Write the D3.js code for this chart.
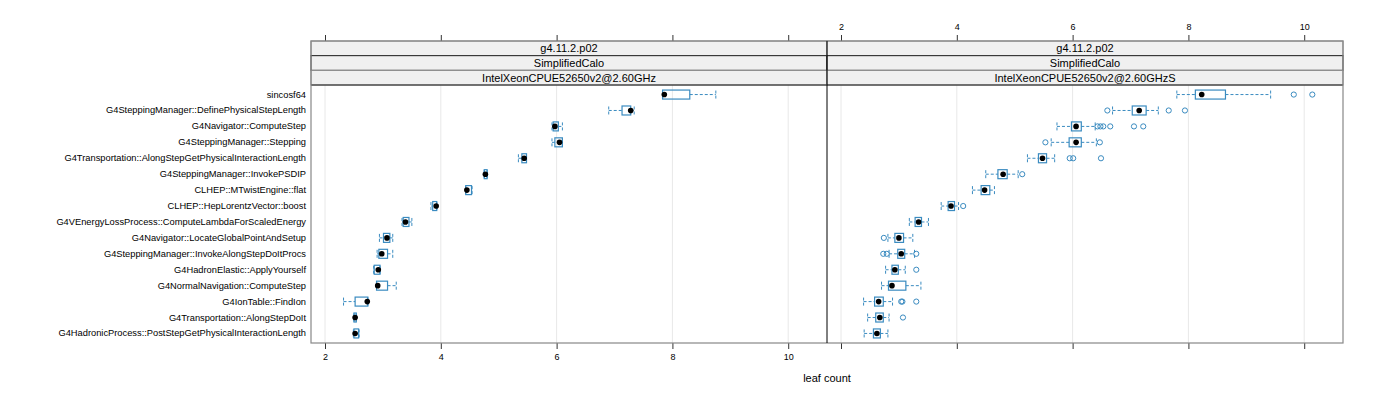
<!DOCTYPE html>
<html><head><meta charset="utf-8">
<script src="https://cdn.jsdelivr.net/npm/d3@7"></script>
<style>body{margin:0;background:#fff;}svg{display:block;font-family:"Liberation Sans",Arial,sans-serif;}</style>
</head><body><svg id="c" width="1400" height="400"></svg>
<script>
const categories = ["sincosf64","G4SteppingManager::DefinePhysicalStepLength","G4Navigator::ComputeStep","G4SteppingManager::Stepping","G4Transportation::AlongStepGetPhysicalInteractionLength","G4SteppingManager::InvokePSDIP","CLHEP::MTwistEngine::flat","CLHEP::HepLorentzVector::boost","G4VEnergyLossProcess::ComputeLambdaForScaledEnergy","G4Navigator::LocateGlobalPointAndSetup","G4SteppingManager::InvokeAlongStepDoItProcs","G4HadronElastic::ApplyYourself","G4NormalNavigation::ComputeStep","G4IonTable::FindIon","G4Transportation::AlongStepDoIt","G4HadronicProcess::PostStepGetPhysicalInteractionLength"];
const stripLevels = ["g4.11.2.p02","SimplifiedCalo"];
const panelNames = ["IntelXeonCPUE52650v2@2.60GHz","IntelXeonCPUE52650v2@2.60GHzS"];
const xTicks = [2,4,6,8,10];
const xLabel = "leaf count";

// Panel 1 (…GHz)
const p1Low = [7.83,6.90,5.92,5.92,5.34,4.75,4.43,3.83,3.33,2.94,2.90,2.84,2.89,2.32,2.50,2.49];
const p1Q1  = [7.83,7.13,5.94,5.97,5.40,4.75,4.43,3.86,3.35,3.01,2.93,2.85,2.89,2.52,2.50,2.50];
const p1Med = [7.86,7.28,5.97,6.05,5.44,4.77,4.45,3.92,3.39,3.07,2.98,2.92,2.91,2.73,2.52,2.52];
const p1Q3  = [8.30,7.28,6.03,6.10,5.48,4.80,4.53,3.93,3.45,3.12,3.08,2.95,3.08,2.74,2.54,2.58];
const p1High= [8.75,7.34,6.10,6.10,5.48,4.80,4.54,3.93,3.50,3.17,3.17,2.95,3.23,2.74,2.54,2.59];
const p1Out = [[],[],[],[],[],[],[],[],[],[],[],[],[],[],[],[]];

// Panel 2 (…GHzS)
const p2Low = [7.80,6.69,5.73,5.63,5.22,4.50,4.27,3.73,3.18,2.81,2.83,2.77,2.70,2.39,2.46,2.40];
const p2Q1  = [8.12,7.03,5.98,5.94,5.41,4.71,4.42,3.85,3.28,2.93,2.98,2.88,2.82,2.58,2.60,2.56];
const p2Med = [8.23,7.15,6.06,6.06,5.48,4.80,4.48,3.90,3.34,3.00,3.04,2.93,2.88,2.65,2.67,2.62];
const p2Q3  = [8.64,7.27,6.15,6.15,5.55,4.87,4.57,3.96,3.39,3.08,3.10,2.99,3.12,2.73,2.73,2.68];
const p2High= [9.42,7.48,6.39,6.41,5.69,5.06,4.65,4.03,3.51,3.24,3.27,3.11,3.38,2.89,2.83,2.81];
const p2Out = [[9.82,10.14],[6.60,7.66,7.94],[6.43,6.48,6.53,6.65,7.06,7.22],[5.53,6.47],[5.95,6.01,6.49],[5.13],[],[4.11],[],[2.74],[2.73,2.79,3.30],[3.30],[],[3.04,3.06,3.30],[3.07],[]];

const panelsData = [
  {name: panelNames[0], low:p1Low, q1:p1Q1, med:p1Med, q3:p1Q3, high:p1High, out:p1Out},
  {name: panelNames[1], low:p2Low, q1:p2Q1, med:p2Med, q3:p2Q3, high:p2High, out:p2Out}
];

const svg = d3.select("#c");
const blue = "#3a8bc0";
const L = 311, R = 1343, T = 41, B = 343;
const panelTop = 85;
const pw = (R - L) / 2;
const y = d3.scalePoint().domain(categories).range([panelTop + 0.6*15.93, B - 0.6*15.93]);

panelsData.forEach((p, pi) => {
  const x0 = L + pi*pw;
  const x = d3.scaleLinear().domain([1.758, 10.67]).range([x0, x0 + pw]);
  const g = svg.append("g");
  g.selectAll(".grid").data(xTicks).join("line")
    .attr("x1", d=>x(d)).attr("x2", d=>x(d)).attr("y1", panelTop).attr("y2", B)
    .attr("stroke", "#e8e8e8").attr("stroke-width", 1);
  const levels = stripLevels.concat([p.name]);
  levels.forEach((s, si) => {
    const sy = T + si*((panelTop - T)/3);
    g.append("rect").attr("x", x0).attr("y", sy).attr("width", pw).attr("height", (panelTop-T)/3)
      .attr("fill", "#f0f0f0").attr("stroke", si===1 ? "#222" : "#888").attr("stroke-width", 1);
    g.append("text").attr("x", x0 + pw/2).attr("y", sy + (panelTop-T)/3/2 + 4)
      .attr("text-anchor", "middle").attr("font-size", 11).attr("fill", "#000").text(s);
  });
  g.append("line").attr("x1", x0).attr("x2", x0+pw).attr("y1", panelTop).attr("y2", panelTop).attr("stroke","#222");
  const topAxis = d3.axisTop(x).tickValues(xTicks).tickSize(6).tickPadding(5).tickFormat(pi===1 ? d3.format("d") : "");
  const botAxis = d3.axisBottom(x).tickValues(xTicks).tickSize(6).tickPadding(5).tickFormat(pi===0 ? d3.format("d") : "");
  [g.append("g").attr("transform", `translate(0,${T})`).call(topAxis),
   g.append("g").attr("transform", `translate(0,${B})`).call(botAxis)].forEach(a => {
    a.select(".domain").remove();
    a.selectAll("line").attr("stroke", "#333");
    a.selectAll("text").attr("font-size", 9).attr("fill", "#000").attr("font-family", "Liberation Sans, Arial, sans-serif");
  });
  const rows = categories.map((c, i) => ({c, low:p.low[i], q1:p.q1[i], med:p.med[i], q3:p.q3[i], high:p.high[i], out:p.out[i]}));
  const bh = 9, cap = 4;
  const bx = g.selectAll(".bx").data(rows).join("g");
  bx.append("line").attr("x1", d=>x(d.low)).attr("x2", d=>x(d.q1)).attr("y1", d=>y(d.c)).attr("y2", d=>y(d.c))
    .attr("stroke", blue).attr("stroke-dasharray", "3,2");
  bx.append("line").attr("x1", d=>x(d.q3)).attr("x2", d=>x(d.high)).attr("y1", d=>y(d.c)).attr("y2", d=>y(d.c))
    .attr("stroke", blue).attr("stroke-dasharray", "3,2");
  bx.append("line").attr("x1", d=>x(d.low)).attr("x2", d=>x(d.low)).attr("y1", d=>y(d.c)-cap).attr("y2", d=>y(d.c)+cap)
    .attr("stroke", blue).attr("stroke-dasharray", "3,2");
  bx.append("line").attr("x1", d=>x(d.high)).attr("x2", d=>x(d.high)).attr("y1", d=>y(d.c)-cap).attr("y2", d=>y(d.c)+cap)
    .attr("stroke", blue).attr("stroke-dasharray", "3,2");
  bx.append("rect").attr("x", d=>x(d.q1)).attr("y", d=>y(d.c)-bh/2).attr("width", d=>Math.max(1, x(d.q3)-x(d.q1))).attr("height", bh)
    .attr("fill", "none").attr("stroke", blue).attr("stroke-width", 1.2);
  bx.selectAll(".o").data(d => d.out.map(v => ({v, c:d.c}))).join("circle")
    .attr("cx", d=>x(d.v)).attr("cy", d=>y(d.c)).attr("r", 2.6).attr("fill", "none").attr("stroke", blue).attr("stroke-width", 1);
  bx.append("circle").attr("cx", d=>x(d.med)).attr("cy", d=>y(d.c)).attr("r", 2.8).attr("fill", "#000");
});

svg.append("rect").attr("x", L).attr("y", T).attr("width", R-L).attr("height", B-T).attr("fill", "none").attr("stroke", "#888").attr("stroke-width", 1.2);
svg.append("line").attr("x1", L+pw).attr("x2", L+pw).attr("y1", T).attr("y2", B).attr("stroke", "#000");

svg.append("g").selectAll("text").data(categories).join("text")
  .attr("x", 306).attr("y", d=>y(d)+3).attr("text-anchor", "end").attr("font-size", 9.3).attr("fill", "#000").text(d=>d);

svg.append("text").attr("x", (L+R)/2).attr("y", 382).attr("text-anchor", "middle").attr("font-size", 11).attr("fill", "#000").text(xLabel);
</script></body></html>
